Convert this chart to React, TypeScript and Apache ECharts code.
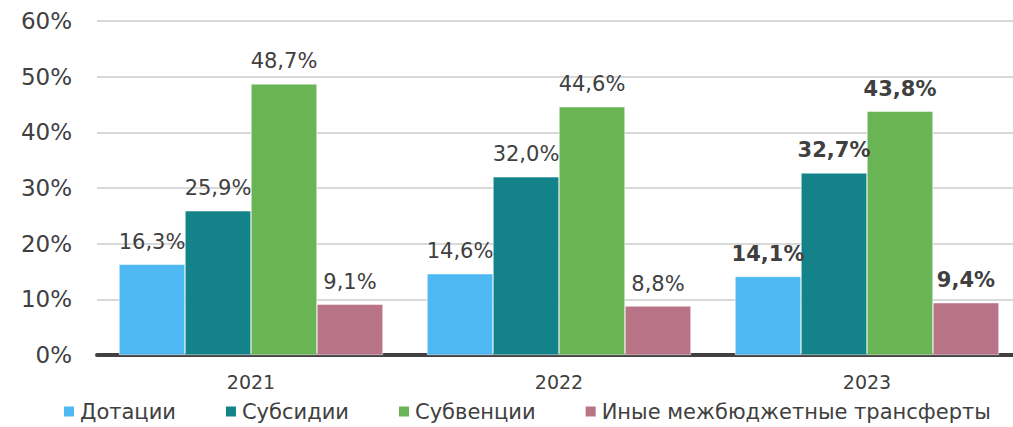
import React, { useEffect, useRef } from "react";
import * as echarts from "echarts";

const years = ["2021", "2022", "2023"];
const seriesNames = ["Дотации", "Субсидии", "Субвенции", "Иные межбюджетные трансферты"];
const dotacii = [16.3, 14.6, 14.1];
const subsidii = [25.9, 32.0, 32.7];
const subvencii = [48.7, 44.6, 43.8];
const inye = [9.1, 8.8, 9.4];
const colors = ["#4DB8F2", "#138289", "#69B556", "#B87386"];
const boldIndex = 2;

const FONT = "DejaVu Sans";
const TXT = "#404040";

export default function App() {
  const ref = useRef<HTMLDivElement>(null);
  useEffect(() => {
    document.body.style.margin = "0";
    const chart = echarts.init(ref.current!, null, { renderer: "svg" });
    const all = [dotacii, subsidii, subvencii, inye];
    chart.setOption({
      animation: false,
      textStyle: { fontFamily: FONT, color: TXT },
      grid: { left: 97, right: -8, top: 21, bottom: 72, outerBoundsMode: "none", containLabel: false },
      legend: {
        bottom: 0,
        left: 62,
        width: 950,
        padding: [5, 0, 5, 0],
        itemWidth: 12,
        itemHeight: 12,
        itemGap: 48,
        icon: "rect",
        textStyle: { fontFamily: FONT, fontSize: 21, color: TXT },
        data: seriesNames,
      },
      xAxis: {
        type: "category",
        data: years,
        axisTick: { show: false },
        axisLine: { lineStyle: { color: "#404040", width: 4 } },
        axisLabel: { fontFamily: FONT, fontSize: 19, color: TXT, margin: 17 },
      },
      yAxis: {
        type: "value",
        min: 0,
        max: 60,
        interval: 10,
        axisLabel: {
          formatter: "{value}%",
          fontFamily: FONT,
          fontSize: 23,
          color: TXT,
          margin: 25,
        },
        splitLine: { lineStyle: { color: "#D9D9D9", width: 2 } },
      },
      series: seriesNames.map((name, si) => ({
        name,
        type: "bar",
        barGap: "0%",
        barCategoryGap: "14.3%",
        itemStyle: { color: colors[si], borderColor: "#ffffff", borderWidth: 0.5 },
        data: all[si].map((v, i) => ({
          value: v,
          label: {
            show: true,
            position: "top",
            distance: 12,
            fontFamily: FONT,
            fontSize: 21,
            color: TXT,
            fontWeight: i === boldIndex ? "bold" : "normal",
            formatter: () => v.toFixed(1).replace(".", ",") + "%",
          },
        })),
      })),
    });
    return () => chart.dispose();
  }, []);
  return <div ref={ref} style={{ width: 1013, height: 427 }} />;
}
